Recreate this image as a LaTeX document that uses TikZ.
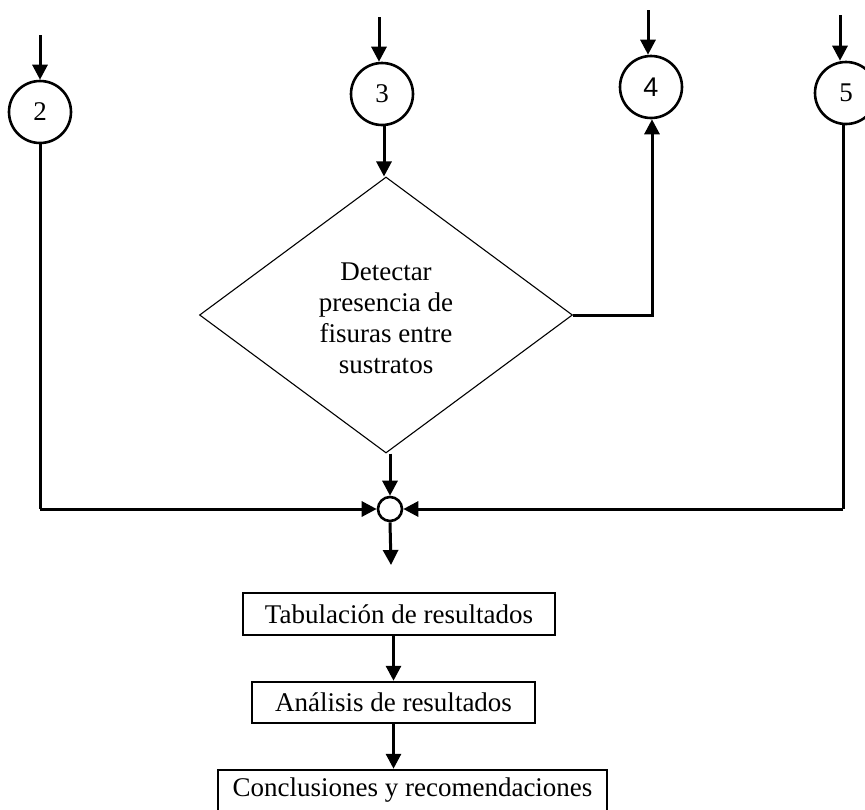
\documentclass[tikz,border=0pt]{standalone}
\usepackage{fontspec}
\setmainfont{Liberation Serif}
\newfontfamily\digitsans{Liberation Sans}
\usetikzlibrary{arrows.meta,shapes.geometric}

\tikzset{
  flow/.style={line width=3pt,-{Triangle[length=15pt,width=15pt]}},
  link/.style={line width=3pt},
  connector/.style={circle,draw,line width=2.6pt,minimum size=62pt,inner sep=0pt,
    font=\fontsize{27pt}{30pt}\selectfont},
  junction/.style={circle,draw,line width=2.6pt,minimum size=24pt,inner sep=0pt},
  decision/.style={diamond,draw,line width=1.1pt,minimum width=373pt,minimum height=276pt,
    inner sep=0pt},
  stepbox/.style={rectangle,draw,line width=2.5pt,inner sep=0pt,
    font=\fontsize{27pt}{30pt}\selectfont},
  label/.style={align=center,font=\fontsize{27pt}{31pt}\selectfont,inner sep=0pt}
}

\begin{document}
\begin{tikzpicture}[x=1pt,y=-1pt]
\useasboundingbox (0,0) rectangle (865,809);
\clip (0,0) rectangle (865,809);

% off-page connectors
\node[connector] (c2) at (40,112) {2};
\node[connector] (c3) at (382,94) {3};
\node[connector] (c4) at (651,87) {\digitsans 4};
\node[connector] (c5) at (846,93) {5};

% incoming arrows
\coordinate (in2) at (40,35);
\coordinate (in3) at (379,17);
\coordinate (in4) at (648,10);
\coordinate (in5) at (840,15);
\draw[flow] (in2) -- (in2 |- c2.north);
\draw[flow] (in3) -- (in3 |- c3.north);
\draw[flow] (in4) -- (in4 |- c4.north);
\draw[flow] (in5) -- (in5 |- c5.north);

% decision
\node[decision] (d) at (386,315) {};
\node[label] (dt) at (386,318) {Detectar\\presencia de\\fisuras entre\\sustratos};
\coordinate (d3) at (384,0);
\draw[flow] (d3 |- c3.south) -- (d3 |- d.north);

% decision to connector 4
\coordinate (up4) at (652,315);
\draw[flow] (d.east) -- (up4) -- (up4 |- c4.south);

% merge point
\node[junction] (j) at (390,509) {};
\draw[flow] (j |- d.south) -- (j.north);
\draw[link] (c2.south) -- (c2.south |- j);
\draw[flow] (c2.south |- j) -- (j.west);
\coordinate (dn5) at (843,0);
\draw[link] (dn5 |- c5.south) -- (dn5 |- j);
\draw[flow] (dn5 |- j) -- (j.east);
\coordinate (jo) at (391,565);
\draw[flow] (j.south) -- (jo);

% final steps
\node[stepbox,minimum width=312pt,minimum height=42pt] (tab) at (399,614) {Tabulación de resultados};
\node[stepbox,minimum width=283pt,minimum height=41pt] (ana) at (393.5,702.5) {Análisis de resultados};
\node[stepbox,minimum width=389pt,minimum height=41pt] (conc) at (412.5,790.5) {Conclusiones y recomendaciones};
\draw[flow] (tab.south -| ana.north) -- (ana.north);
\draw[flow] (ana.south) -- (ana.south |- conc.north);
\end{tikzpicture}
\end{document}
